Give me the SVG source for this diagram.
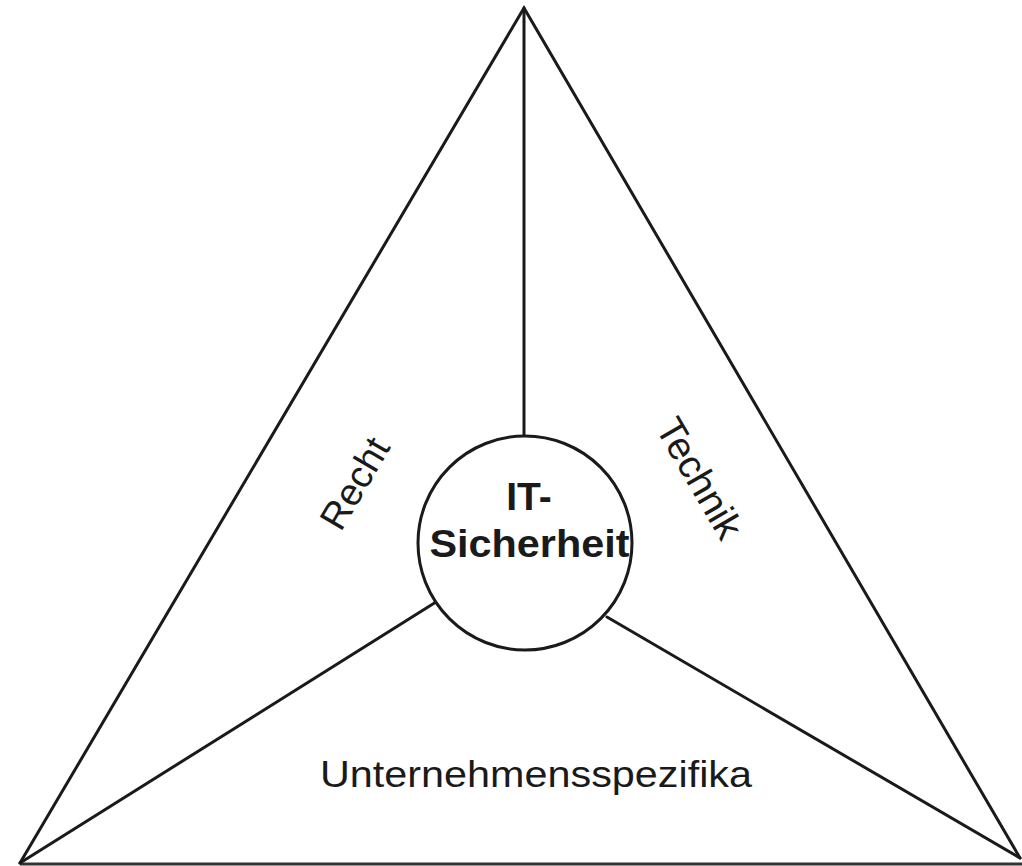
<svg xmlns="http://www.w3.org/2000/svg" width="1022" height="866" viewBox="0 0 1022 866">
<style>
.ln{stroke:#1a1a1a;stroke-width:3;fill:none;stroke-linecap:round}
.lbl{font-family:"Liberation Sans",Arial,sans-serif;fill:#1a1a1a;font-size:38px}
.ctr{font-family:"Liberation Sans",Arial,sans-serif;fill:#1a1a1a;font-size:39px;font-weight:bold}
</style>
<rect width="1022" height="866" fill="#fff"/>
<g id="connectors">
<path class="ln" d="M20,863 L524,8 L1020,858"/>
<line x1="20" y1="864" x2="1022" y2="864" stroke="#333" stroke-width="3"/>
<line class="ln" x1="524" y1="8" x2="524" y2="437"/>
<line class="ln" x1="436" y1="602" x2="20" y2="863"/>
<line class="ln" x1="607" y1="617" x2="1020" y2="858"/>
</g>
<g id="center">
<circle cx="525" cy="543" r="107" fill="#fff" stroke="#1a1a1a" stroke-width="3"/>
<text class="ctr" x="529" y="510" text-anchor="middle">IT-</text>
<text class="ctr" x="529.5" y="557" text-anchor="middle" textLength="200" lengthAdjust="spacingAndGlyphs">Sicherheit</text>
</g>
<g id="recht">
<text class="lbl" text-anchor="middle" transform="translate(366,490) rotate(-59.5)">Recht</text>
</g>
<g id="technik">
<text class="lbl" text-anchor="middle" transform="translate(688,485) rotate(59.8)" style="font-size:39px">Technik</text>
</g>
<g id="unternehmen">
<text class="lbl" x="536" y="787" text-anchor="middle" textLength="432" lengthAdjust="spacingAndGlyphs" style="font-size:36px">Unternehmensspezifika</text>
</g>
</svg>
